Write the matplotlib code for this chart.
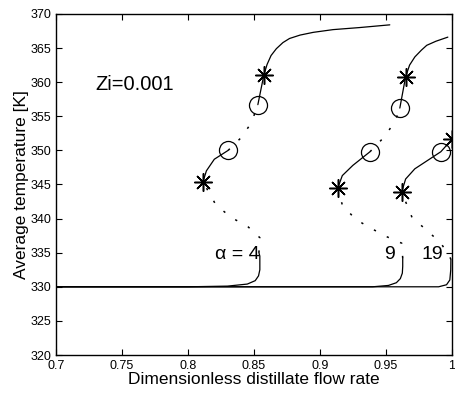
import matplotlib
matplotlib.use("Agg")
import matplotlib.pyplot as plt

plt.rcParams['font.family'] = ['Liberation Sans', 'DejaVu Sans']

# ---- data ----
xticks = [0.7, 0.75, 0.8, 0.85, 0.9, 0.95, 1.0]
xticklabels = ["0.7", "0.75", "0.8", "0.85", "0.9", "0.95", "1"]
yticks = [320, 325, 330, 335, 340, 345, 350, 355, 360, 365, 370]

# alpha = 4
low4_x = [0.70, 0.80, 0.83, 0.845, 0.851, 0.8535, 0.8545, 0.8545, 0.8538]
low4_y = [330.0, 330.0, 330.1, 330.4, 330.9, 331.6, 332.5, 334.5, 335.0]
uns4a_x = [0.8538, 0.8545, 0.845, 0.8333, 0.8212, 0.8114]
uns4a_y = [335.0, 337.2, 338.9, 340.1, 342.0, 345.4]
mid4_x = [0.8114, 0.814, 0.820, 0.8305]
mid4_y = [345.4, 347.0, 348.7, 350.0]
uns4b_x = [0.8305, 0.840, 0.848, 0.853]
uns4b_y = [350.0, 351.8, 354.0, 356.7]
up4_x = [0.853, 0.8576, 0.860, 0.863, 0.867, 0.872, 0.877, 0.885, 0.895, 0.91, 0.93, 0.953]
up4_y = [356.7, 361.1, 362.6, 363.9, 364.9, 365.8, 366.4, 366.9, 367.3, 367.7, 368.0, 368.4]

# alpha = 9
low9_x = [0.70, 0.94, 0.952, 0.958, 0.961, 0.9625, 0.9628, 0.9628]
low9_y = [330.0, 330.0, 330.2, 330.6, 331.2, 332.0, 333.0, 334.2]
uns9a_x = [0.9628, 0.962, 0.95, 0.9386, 0.927, 0.917, 0.9136]
uns9a_y = [334.2, 336.4, 337.4, 338.6, 339.9, 342.0, 344.5]
mid9_x = [0.9136, 0.917, 0.925, 0.938]
mid9_y = [344.5, 346.3, 347.8, 349.8]
uns9b_x = [0.938, 0.948, 0.957, 0.9606]
uns9b_y = [349.8, 351.8, 354.2, 356.2]
up9_x = [0.9606, 0.965, 0.968, 0.972, 0.977, 0.981, 0.988, 0.997]
up9_y = [356.2, 360.8, 362.5, 363.7, 364.7, 365.4, 366.0, 366.6]

# alpha = 19
low19_x = [0.70, 0.99, 0.996, 0.9985, 0.9992, 0.9993]
low19_y = [330.0, 330.0, 330.3, 331.0, 332.5, 334.0]
uns19a_x = [0.9993, 0.9985, 0.9917, 0.981, 0.970, 0.962]
uns19a_y = [334.0, 334.4, 336.4, 338.3, 340.1, 343.9]
mid19_x = [0.962, 0.965, 0.972, 0.9917, 1.0]
mid19_y = [343.9, 345.8, 347.3, 349.8, 351.6]

# bifurcation markers
circ_x = [0.8305, 0.853, 0.938, 0.9606, 0.9917]
circ_y = [350.0, 356.7, 349.8, 356.2, 349.8]
star_x = [0.8114, 0.8576, 0.9136, 0.965, 0.962, 1.0]
star_y = [345.4, 361.1, 344.5, 360.8, 343.9, 351.6]

labels = ["\u03b1 = 4", "9", "19"]
label_x = [0.8375, 0.953, 0.9855]
label_y = [334.8, 334.8, 334.8]

# ---- plot ----
fig = plt.figure(figsize=(4.56, 3.98), dpi=100)
ax = fig.add_axes([0.1228, 0.108, 0.868, 0.857])

solid = dict(color='black', lw=0.9, solid_capstyle='round')
dotted = dict(color='black', lw=1.1, linestyle=(0, (1.5, 8)))

for x, y in [(low4_x, low4_y), (mid4_x, mid4_y), (up4_x, up4_y),
             (low9_x, low9_y), (mid9_x, mid9_y), (up9_x, up9_y),
             (low19_x, low19_y), (mid19_x, mid19_y)]:
    ax.plot(x, y, **solid)
for x, y in [(uns4a_x, uns4a_y), (uns4b_x, uns4b_y),
             (uns9a_x, uns9a_y), (uns9b_x, uns9b_y),
             (uns19a_x, uns19a_y)]:
    ax.plot(x, y, **dotted)

ax.plot(circ_x, circ_y, linestyle='none', marker='o', ms=13, mfc='none',
        mec='black', mew=0.9)
ax.plot(star_x, star_y, linestyle='none', marker=(8, 2, 0), ms=13,
        mec='black', mew=1.1)

ax.text(0.7295, 359.6, "Zi=0.001", fontsize=14.5, va='center', ha='left')
for t, x, y in zip(labels, label_x, label_y):
    ax.text(x, y, t, fontsize=14, ha='center', va='center')

ax.set_xlim(0.7, 1.0)
ax.set_ylim(320, 370)
ax.set_xticks(xticks)
ax.set_xticklabels(xticklabels)
ax.set_yticks(yticks)
ax.tick_params(direction='in', top=True, right=True, length=4, width=0.8,
               labelsize=9, pad=3.5)
for s in ax.spines.values():
    s.set_linewidth(1.0)

ax.set_xlabel("Dimensionless distillate flow rate", fontsize=12.5, labelpad=0)
ax.set_ylabel("Average temperature [K]", fontsize=12.5, labelpad=1)

fig.savefig("out.png", dpi=100)
